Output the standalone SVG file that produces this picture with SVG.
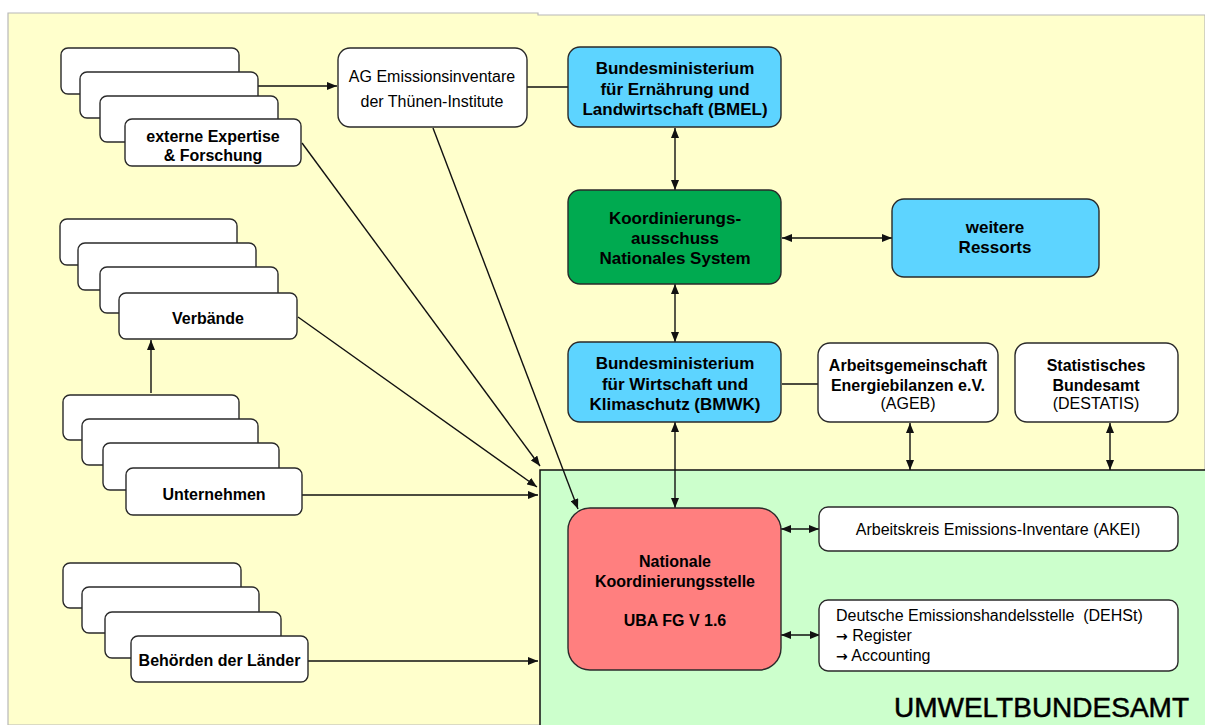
<svg xmlns="http://www.w3.org/2000/svg" width="1205" height="725" viewBox="0 0 1205 725">
<defs>
<style>
.card{fill:#fff;stroke:#2a2a2a;stroke-width:1.4}
.box{stroke:#2a2a2a;stroke-width:1.4}
.white{fill:#fff}
.blue{fill:#5DD4FF}
.green{fill:#00AA50}
.red{fill:#FF7F7F}
.c{fill:none;stroke:#111;stroke-width:1.4}
text{font-family:"Liberation Sans",Arial,sans-serif;font-size:16px;fill:#000;text-anchor:middle}
.b{font-weight:bold}
.big{font-weight:bold;font-size:17px}
.l{text-anchor:start}
.arr{font-family:"DejaVu Sans",sans-serif;font-weight:bold;font-size:14px}
</style>
<marker id="ah" viewBox="0 0 10 8" refX="10" refY="4" markerWidth="10" markerHeight="8" markerUnits="userSpaceOnUse" orient="auto-start-reverse">
<path d="M0,0 L10,4 L0,8 z" fill="#111"/>
</marker>
</defs>

<g id="background">
<path d="M8,725 L8,13 L538,13 L538,15 L1205,15 L1205,725 Z" fill="#FFFFCC" stroke="#b8b8b8" stroke-width="1.2"/>
</g>
<g id="umweltbundesamt-area">
<rect x="540" y="470" width="670" height="260" fill="#CCFFCC"/>
<path d="M1205,470 L540,470 L540,725" fill="none" stroke="#111" stroke-width="1.5"/>
<text x="1189" y="717" style="font-size:28px;text-anchor:end" stroke="#000" stroke-width="0.5">UMWELTBUNDESAMT</text>
</g>

<g id="connectors">
<path class="c" d="M258,86 L337,86" marker-end="url(#ah)"/>
<path class="c" d="M527,87 L568,87"/>
<path class="c" d="M675,128 L675,190" marker-start="url(#ah)" marker-end="url(#ah)"/>
<path class="c" d="M782,238 L892,238" marker-start="url(#ah)" marker-end="url(#ah)"/>
<path class="c" d="M675,284 L675,342" marker-start="url(#ah)" marker-end="url(#ah)"/>
<path class="c" d="M782,384 L818,384"/>
<path class="c" d="M910,423 L910,470" marker-start="url(#ah)" marker-end="url(#ah)"/>
<path class="c" d="M1110,423 L1110,470" marker-start="url(#ah)" marker-end="url(#ah)"/>
<path class="c" d="M675,422 L675,508" marker-start="url(#ah)" marker-end="url(#ah)"/>
<path class="c" d="M781,529 L819,529" marker-start="url(#ah)" marker-end="url(#ah)"/>
<path class="c" d="M781,635 L820,635" marker-start="url(#ah)" marker-end="url(#ah)"/>
<path class="c" d="M302,143 L540,466" marker-end="url(#ah)"/>
<path class="c" d="M433,128 L578,509" marker-end="url(#ah)"/>
<path class="c" d="M298,317 L537,487" marker-end="url(#ah)"/>
<path class="c" d="M302,495 L538,495" marker-end="url(#ah)"/>
<path class="c" d="M308,661 L538,661" marker-end="url(#ah)"/>
<path class="c" d="M151,393 L151,340" marker-end="url(#ah)"/>
</g>

<g id="externe-expertise">
<rect class="card" x="61" y="48" width="178" height="46" rx="7"/>
<rect class="card" x="80" y="72" width="178" height="46" rx="7"/>
<rect class="card" x="100" y="96" width="178" height="46" rx="7"/>
<rect class="card" x="125" y="119" width="176" height="47" rx="7"/>
<text class="b" x="213" y="142">externe Expertise</text>
<text class="b" x="213" y="161">&amp; Forschung</text>
</g>

<g id="verbaende">
<rect class="card" x="60" y="219" width="177" height="46" rx="7"/>
<rect class="card" x="78" y="243" width="178" height="47" rx="7"/>
<rect class="card" x="100" y="267" width="178" height="46" rx="7"/>
<rect class="card" x="119" y="293" width="178" height="46" rx="7"/>
<text class="b" x="208" y="324">Verbände</text>
</g>

<g id="unternehmen">
<rect class="card" x="63" y="395" width="176" height="45" rx="7"/>
<rect class="card" x="82" y="419" width="176" height="46" rx="7"/>
<rect class="card" x="103" y="443" width="176" height="47" rx="7"/>
<rect class="card" x="126" y="468" width="176" height="47" rx="7"/>
<text class="b" x="214" y="500">Unternehmen</text>
</g>

<g id="behoerden">
<rect class="card" x="63" y="563" width="178" height="45" rx="7"/>
<rect class="card" x="82" y="587" width="177" height="46" rx="7"/>
<rect class="card" x="105" y="612" width="176" height="46" rx="7"/>
<rect class="card" x="131" y="636" width="177" height="46" rx="7"/>
<text class="b" x="219.5" y="666">Behörden der Länder</text>
</g>

<g id="ag-emissionsinventare">
<rect class="box white" x="338" y="48" width="189" height="79" rx="12"/>
<text x="432" y="82">AG Emissionsinventare</text>
<text x="432" y="107">der Thünen-Institute</text>
</g>

<g id="bmel">
<rect class="box blue" x="568" y="47" width="213" height="80" rx="12"/>
<text class="big" x="675" y="74">Bundesministerium</text>
<text class="big" x="675" y="95">für Ernährung und</text>
<text class="big" x="675" y="115">Landwirtschaft (BMEL)</text>
</g>

<g id="koordinierungsausschuss">
<rect class="box green" x="568" y="190" width="213" height="94" rx="12"/>
<text class="big" x="675" y="224">Koordinierungs-</text>
<text class="big" x="675" y="244">ausschuss</text>
<text class="big" x="675" y="264">Nationales System</text>
</g>

<g id="weitere-ressorts">
<rect class="box blue" x="892" y="199" width="207" height="78" rx="12"/>
<text class="big" x="995" y="233">weitere</text>
<text class="big" x="995" y="253">Ressorts</text>
</g>

<g id="bmwk">
<rect class="box blue" x="568" y="342" width="213" height="80" rx="12"/>
<text class="big" x="675" y="369">Bundesministerium</text>
<text class="big" x="675" y="390">für Wirtschaft und</text>
<text class="big" x="675" y="410">Klimaschutz (BMWK)</text>
</g>

<g id="ageb">
<rect class="box white" x="818" y="343" width="180" height="79" rx="12"/>
<text class="b" x="908" y="371">Arbeitsgemeinschaft</text>
<text class="b" x="908" y="391">Energiebilanzen e.V.</text>
<text x="908" y="409">(AGEB)</text>
</g>

<g id="destatis">
<rect class="box white" x="1015" y="343" width="163" height="79" rx="12"/>
<text class="b" x="1096" y="371">Statistisches</text>
<text class="b" x="1096" y="391">Bundesamt</text>
<text x="1096" y="409">(DESTATIS)</text>
</g>

<g id="nationale-koordinierungsstelle">
<rect class="box red" x="568" y="508" width="213" height="162" rx="22"/>
<text class="b" x="675" y="567">Nationale</text>
<text class="b" x="675" y="587">Koordinierungsstelle</text>
<text class="b" x="675" y="626">UBA FG V 1.6</text>
</g>

<g id="akei">
<rect class="box white" x="819" y="507" width="359" height="44" rx="9"/>
<text x="998" y="535">Arbeitskreis Emissions-Inventare (AKEI)</text>
</g>

<g id="dehst">
<rect class="box white" x="819" y="600" width="359" height="71" rx="9"/>
<text class="l" x="836" y="621" xml:space="preserve">Deutsche Emissionshandelsstelle  (DEHSt)</text>
<text class="l" x="836" y="641"><tspan class="arr">→</tspan> Register</text>
<text class="l" x="836" y="661"><tspan class="arr">→</tspan> Accounting</text>
</g>
</svg>
